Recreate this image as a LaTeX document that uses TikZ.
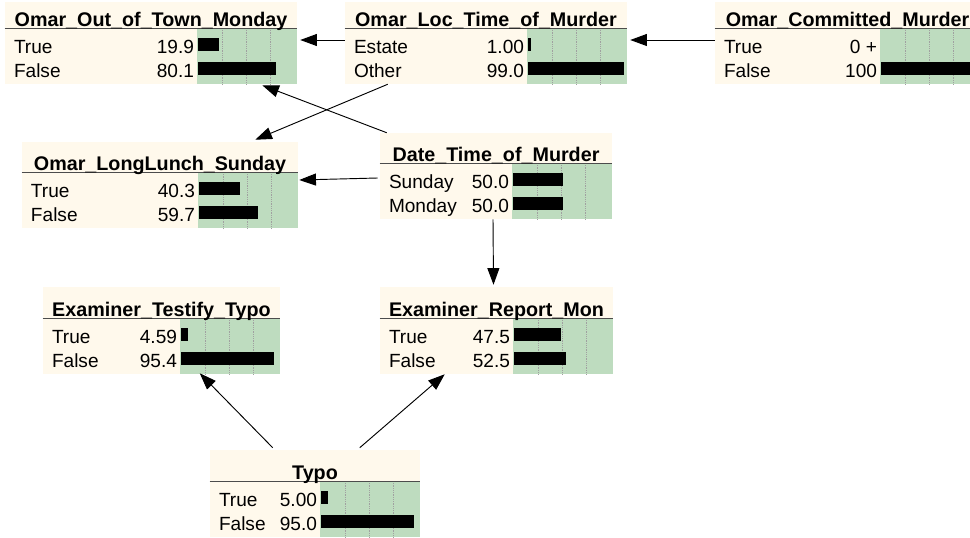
\documentclass[tikz,border=0pt]{standalone}
\usepackage{fontspec}
\setmainfont{Liberation Sans}
\usetikzlibrary{calc,fit,arrows.meta}
\definecolor{cream}{RGB}{255,249,236}
\definecolor{barbg}{RGB}{190,220,191}
\definecolor{gridgray}{RGB}{160,160,160}

\newcommand{\beliefbox}[6]{%
  \node[belief, fit={(#2,#3) (#4,#5)}] (#1) {};
  \fill[barbg] ($(#1.south east)+(-100,0)$) rectangle ($(#1.south east)+(0,-56)$);
  \foreach \gx in {25,49,73}
    \draw[gridline] ($(#1.south east)+(-100+\gx,0)$) -- ++(0,-56);
  \draw[titlerule] ($(#1.south west)+(0,-56)$) -- ($(#1.south east)+(0,-56)$);
  \node[titletext] at ($(#1.south)+(0,-58)$) {#6};
}
\newcommand{\staterow}[5]{%
  \node[statetext, anchor=base west] at ($(#1.south west)+(9,{-31+24*(#2-1)})$) {#3};
  \node[statetext, anchor=base east] at ($(#1.south east)+(-103,{-31+24*(#2-1)})$) {#4};
  \ifdim #5pt>0pt
    \fill ($(#1.south east)+(-99,{-33+24*(#2-1)})$) rectangle ++({0.95*#5+2},-13);
  \fi
}

\begin{document}
\begin{tikzpicture}[x=0.75pt, y=-0.75pt,
  belief/.style={fill=cream, draw=none, inner sep=0pt},
  gridline/.style={gridgray, densely dotted, line width=0.35pt},
  titlerule/.style={black!70, line width=0.8pt},
  titletext/.style={anchor=base, inner sep=0pt, font=\fontsize{14.8pt}{17pt}\selectfont\bfseries},
  statetext/.style={inner sep=0pt, font=\fontsize{14.3pt}{17pt}\selectfont},
  link/.style={line width=0.7pt, -{Triangle[length=12.5pt, width=9pt]}}]
\useasboundingbox (0,0) rectangle (970,538);
\clip (0,0) rectangle (970,538);

\beliefbox{town}{5}{2}{297}{84}{Omar\_Out\_of\_Town\_Monday}
\staterow{town}{1}{True}{19.9}{19.9}
\staterow{town}{2}{False}{80.1}{80.1}

\beliefbox{loc}{345}{2}{627}{84}{Omar\_Loc\_Time\_of\_Murder}
\staterow{loc}{1}{Estate}{1.00}{1.00}
\staterow{loc}{2}{Other}{99.0}{99.0}

\beliefbox{murder}{715}{2}{980}{84}{Omar\_Committed\_Murder}
\staterow{murder}{1}{True}{0 +}{0}
\staterow{murder}{2}{False}{100}{100}

\beliefbox{lunch}{22}{142}{298}{228}{Omar\_LongLunch\_Sunday}
\staterow{lunch}{1}{True}{40.3}{40.3}
\staterow{lunch}{2}{False}{59.7}{59.7}

\beliefbox{date}{380}{133}{612}{219}{Date\_Time\_of\_Murder}
\staterow{date}{1}{Sunday}{50.0}{50.0}
\staterow{date}{2}{Monday}{50.0}{50.0}

\beliefbox{testify}{43}{287}{280}{374}{Examiner\_Testify\_Typo}
\staterow{testify}{1}{True}{4.59}{4.59}
\staterow{testify}{2}{False}{95.4}{95.4}

\beliefbox{report}{380}{287}{613}{374}{Examiner\_Report\_Mon}
\staterow{report}{1}{True}{47.5}{47.5}
\staterow{report}{2}{False}{52.5}{52.5}

\beliefbox{typo}{210}{450}{420}{537}{Typo}
\staterow{typo}{1}{True}{5.00}{5.00}
\staterow{typo}{2}{False}{95.0}{95.0}

\draw[link] ($(loc.west)+(0,-3)$) -- ($(town.east)+(3,-3)$);
\draw[link] ($(murder.west)+(0,-3)$) -- ($(loc.east)+(3,-3)$);
\draw[link] ($(date.north west)+(7,0)$) -- ($(town.south east)+(-35,1)$);
\draw[link] ($(loc.south west)+(43,0)$) -- ($(lunch.north east)+(-43,-2)$);
\draw[link] ($(date.west)+(-2,2)$) -- ($(lunch.east)+(1,-5)$);
\draw[link] ($(date.south)+(-3,0)$) -- ($(report.north)+(-3,-2)$);
\draw[link] ($(typo.north west)+(63,-2)$) -- ($(testify.south west)+(157,-1)$);
\draw[link] ($(typo.north west)+(150,-2)$) -- ($(report.south west)+(65,0)$);
\end{tikzpicture}
\end{document}
